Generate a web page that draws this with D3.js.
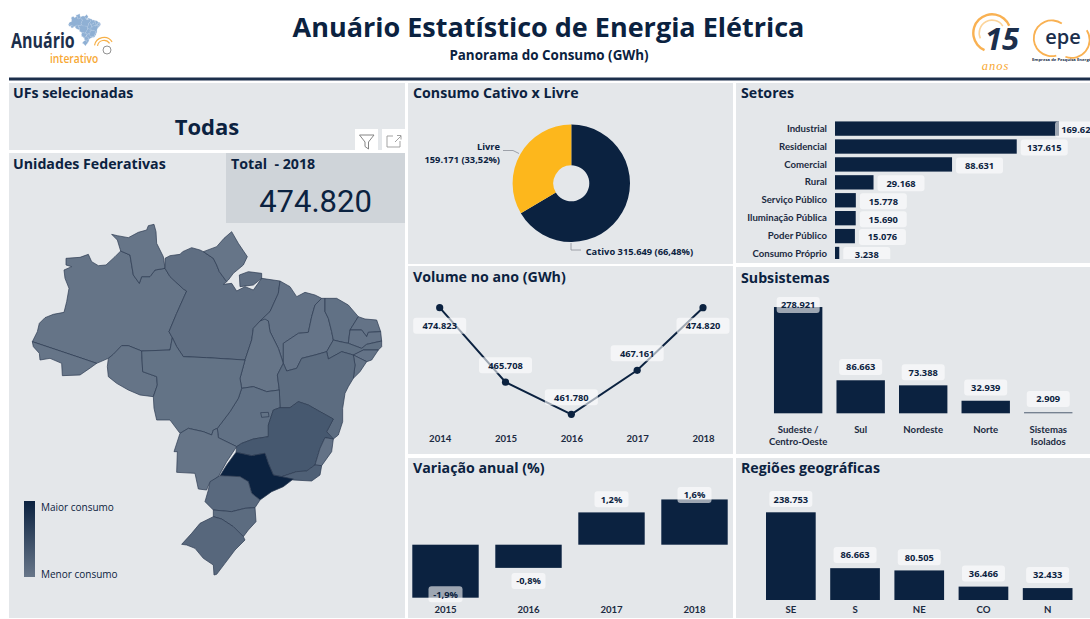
<!DOCTYPE html>
<html>
<head>
<meta charset="utf-8">
<script src="https://cdn.jsdelivr.net/npm/d3@7"></script>
<style>
  html, body { margin: 0; padding: 0; background: #fff; overflow: hidden; }
  svg { display: block; }
  text { font-family: "Open Sans", sans-serif; fill: #0b2240; }
  .title { font-weight: 700; font-size: 14.2px; }
  .lbl { font-weight: 700; font-size: 9.3px; }
  .axis text { font-weight: 700; font-size: 9.6px; fill: #1b2a41; font-family: Lato, sans-serif; }
</style>
</head>
<body>
<div id="chart"></div>
<script>
// --- data ---
const setores = ["Industrial", "Residencial", "Comercial", "Rural", "Serviço Público", "Iluminação Pública", "Poder Público", "Consumo Próprio"];
const setoresVal = [169624, 137615, 88631, 29168, 15778, 15690, 15076, 3238];

const subsistemas = ["Sudeste /|Centro-Oeste", "Sul", "Nordeste", "Norte", "Sistemas|Isolados"];
const subsistemasVal = [278921, 86663, 73388, 32939, 2909];

const regioes = ["SE", "S", "NE", "CO", "N"];
const regioesVal = [238753, 86663, 80505, 36466, 32433];

const anos = ["2014", "2015", "2016", "2017", "2018"];
const volumeVal = [474823, 465708, 461780, 467161, 474820];

const anosVar = ["2015", "2016", "2017", "2018"];
const variacaoVal = [-1.92, -0.84, 1.17, 1.64];

const contratos = ["Cativo", "Livre"];
const contratosVal = [315649, 159171];
const contratosPct = ["66,48%", "33,52%"];

// consumption per UF is not printed, estimated from the map shading (GWh)
const ufConsumo = { AC: 1000, AM: 3000, AP: 1000, PA: 12000, RO: 3000, RR: 1000, TO: 1500, MA: 6000, PI: 2500, CE: 8000,
  RN: 4000, PB: 4000, PE: 10000, AL: 4000, SE: 3000, BA: 16000, GO: 8000, DF: 5000, MT: 5000, MS: 3000,
  MG: 46000, ES: 6000, RJ: 34000, SP: 130000, PR: 20000, SC: 16000, RS: 23000 };

// state outlines (map units, 3 per pixel)
const ufOutlines = {
  AM: [[[97,380],[112,350],[118,325],[135,308],[160,298],[192,292],[200,260],[207,220],[195,190],[192,165],[215,155],[198,150],[198,130],[240,127],[265,118],[275,140],[295,152],[318,150],[345,125],[362,108],[390,120],[400,180],[418,205],[425,185],[450,185],[465,165],[495,160],[510,185],[550,222],[560,228],[530,295],[507,350],[517,368],[510,405],[425,408],[385,392],[365,392],[340,418],[325,430],[290,445],[240,428]]],
  RR: [[[335,58],[352,62],[385,68],[415,52],[440,45],[445,32],[462,28],[468,50],[470,85],[490,125],[495,160],[465,165],[450,185],[425,185],[418,205],[400,180],[390,120],[362,108],[352,75]]],
  AC: [[[97,380],[240,428],[290,445],[272,458],[240,480],[187,482],[185,445],[150,430],[120,435],[118,415],[100,395]]],
  RO: [[[325,430],[340,418],[365,392],[385,392],[425,408],[428,470],[470,485],[472,510],[460,545],[420,540],[385,525],[350,505],[325,485],[322,455]]],
  PA: [[[495,130],[510,122],[540,118],[548,110],[575,98],[600,105],[610,110],[640,130],[650,150],[658,170],[680,200],[670,208],[695,205],[710,228],[735,215],[760,225],[785,190],[840,198],[835,235],[810,290],[780,318],[760,340],[755,375],[735,435],[620,428],[550,425],[530,395],[517,368],[507,350],[530,295],[560,228],[550,222],[510,185],[495,160]],
       [[718,180],[745,170],[785,175],[785,190],[760,210],[720,215]]],
  AP: [[[610,110],[650,95],[672,70],[695,50],[715,85],[742,125],[730,150],[700,175],[685,195],[680,200],[658,170],[650,150],[640,130]]],
  MA: [[[840,198],[870,215],[890,245],[915,232],[945,240],[965,250],[945,270],[935,305],[925,352],[895,355],[850,385],[850,445],[835,400],[810,350],[805,318],[780,318],[810,290],[835,235]]],
  TO: [[[780,318],[795,312],[805,318],[810,350],[835,400],[850,445],[832,480],[838,525],[800,530],[760,515],[725,520],[720,490],[735,435],[755,375],[760,340]]],
  PI: [[[965,250],[975,250],[975,290],[985,310],[995,350],[1000,375],[980,410],[945,420],[905,430],[890,460],[860,468],[850,445],[850,385],[895,355],[925,352],[935,305],[945,270]]],
  CE: [[[975,250],[1010,250],[1045,270],[1075,305],[1050,345],[1045,385],[1020,380],[1000,375],[995,350],[985,310],[975,290]]],
  RN: [[[1075,305],[1095,312],[1130,315],[1142,350],[1105,352],[1100,365],[1085,345],[1050,345]]],
  PB: [[[1050,345],[1085,345],[1100,365],[1105,352],[1142,350],[1145,378],[1100,388],[1085,400],[1045,385]]],
  PE: [[[1000,375],[1020,380],[1045,385],[1085,400],[1100,388],[1145,378],[1145,395],[1135,405],[1090,405],[1060,420],[1025,410],[985,432],[980,410]]],
  AL: [[[1060,420],[1090,405],[1135,405],[1115,435],[1100,440],[1080,430]]],
  SE: [[[1060,420],[1080,430],[1100,440],[1080,470],[1060,490],[1065,450]]],
  BA: [[[850,445],[860,468],[890,460],[905,430],[945,420],[980,410],[985,432],[1025,410],[1060,420],[1065,450],[1060,490],[1045,515],[1035,535],[1028,580],[1028,620],[1015,660],[1000,672],[980,650],[1000,612],[960,590],[925,570],[895,560],[870,578],[840,578],[838,525],[832,480]]],
  GO: [[[725,520],[760,515],[800,530],[838,525],[840,578],[820,585],[805,630],[805,665],[760,672],[725,685],[710,695],[655,668],[652,640],[690,590],[715,550]]],
  MT: [[[425,408],[510,405],[517,368],[530,395],[550,425],[620,428],[735,435],[720,490],[725,520],[715,550],[690,590],[652,640],[640,645],[635,660],[610,650],[565,640],[540,655],[510,615],[470,615],[462,580],[460,545],[472,510],[470,485],[428,470]]],
  MS: [[[540,655],[565,640],[610,650],[635,660],[640,645],[652,640],[655,668],[710,695],[680,740],[655,785],[628,805],[620,825],[595,822],[585,775],[530,772],[532,710],[522,710]]],
  MG: [[[710,695],[725,685],[760,672],[805,665],[805,630],[820,585],[840,578],[870,578],[895,560],[925,570],[960,590],[1000,612],[980,650],[1000,672],[975,668],[960,700],[945,750],[920,768],[890,770],[845,785],[820,780],[805,745],[795,715],[755,722],[708,712]]],
  ES: [[[975,668],[1000,672],[995,710],[965,752],[945,750],[960,700]]],
  RJ: [[[945,750],[965,752],[960,780],[935,798],[880,795],[845,785],[890,770],[920,768]]],
  SP: [[[708,712],[755,722],[795,715],[805,745],[820,780],[845,785],[880,792],[850,815],[815,830],[780,855],[755,835],[745,800],[720,785],[660,782],[680,750]]],
  PR: [[[660,782],[720,785],[745,800],[755,835],[780,855],[765,878],[735,880],[695,890],[640,885],[615,860],[625,825],[630,800]]],
  SC: [[[640,885],[695,890],[735,880],[765,878],[768,920],[745,945],[730,965],[700,935],[665,912],[640,905]]],
  RS: [[[640,905],[665,912],[700,935],[730,965],[735,975],[705,1005],[675,1045],[650,1078],[642,1080],[640,1050],[610,1030],[585,1000],[560,990],[545,988],[575,955],[600,925]]],
  DF: [[[782,593],[805,592],[807,605],[785,607]]]
};

const NAVY = "#0b2240";
const PANEL = "#e4e7ea";
const fmt = d3.formatLocale({ decimal: ",", thousands: ".", grouping: [3], currency: ["", ""] }).format(",d");

const svg = d3.select("#chart").append("svg")
  .attr("width", 1090)
  .attr("height", 619);

// panels
const panels = [
  [9, 83, 396, 67], [9, 153, 396, 465],
  [408, 83, 325, 181], [408, 266, 325, 188], [408, 458, 325, 160],
  [736, 83, 354, 180], [736, 267, 354, 187], [736, 458, 354, 160]
];
svg.selectAll("rect.panel").data(panels).enter().append("rect")
  .attr("class", "panel")
  .attr("x", d => d[0]).attr("y", d => d[1])
  .attr("width", d => d[2]).attr("height", d => d[3])
  .attr("fill", PANEL);
svg.append("rect").attr("x", 226).attr("y", 153).attr("width", 179).attr("height", 70).attr("fill", "#cfd4d9");
svg.append("rect").attr("x", 9).attr("y", 77.5).attr("width", 1081).attr("height", 3).attr("fill", "#1c2f4c");

// header
svg.append("text").attr("x", 548.5).attr("y", 37).attr("text-anchor", "middle")
  .style("font-size", "27px").style("font-weight", 700).text("Anuário Estatístico de Energia Elétrica");
svg.append("text").attr("x", 549).attr("y", 60).attr("text-anchor", "middle")
  .style("font-size", "13.4px").style("font-weight", 700).text("Panorama do Consumo (GWh)");

// panel titles
const titulos = [["UFs selecionadas", 13, 98], ["Unidades Federativas", 13, 169], ["Total  - 2018", 231, 169],
  ["Consumo Cativo x Livre", 413, 98], ["Setores", 741, 98], ["Volume no ano (GWh)", 413, 282],
  ["Subsistemas", 741, 283], ["Variação anual (%)", 413, 473], ["Regiões geográficas", 741, 473]];
svg.selectAll("text.title").data(titulos).enter().append("text")
  .attr("class", "title")
  .attr("x", d => d[1]).attr("y", d => d[2])
  .style("white-space", "pre")
  .text(d => d[0]);

svg.append("text").attr("x", 207).attr("y", 135).attr("text-anchor", "middle")
  .style("font-size", "22px").style("font-weight", 700).text("Todas");
svg.append("text").attr("x", 315.5).attr("y", 212).attr("text-anchor", "middle")
  .style("font-family", "Roboto").style("font-size", "31px").text(fmt(volumeVal[4]));

// filter + focus icons
svg.selectAll("rect.icon").data([355, 382]).enter().append("rect")
  .attr("class", "icon").attr("x", d => d).attr("y", 129).attr("width", 23).attr("height", 21).attr("fill", "#fff");
svg.append("path").attr("d", "M359.5 135 H374 L368.5 142 V149 L365 146.5 V142 Z").attr("fill", "none").attr("stroke", "#777").attr("stroke-width", 0.9);
svg.append("path").attr("d", "M393 136 H387 V147 H400 V141 M395 142 L401 136 M397 135.5 H401 V139.5").attr("fill", "none").attr("stroke", "#999").attr("stroke-width", 0.9);

// white-backed value label, sits over the marks
function boxLabel(g, cx, cy, w, txt) {
  g.append("rect")
    .attr("x", cx - w / 2).attr("y", cy - 8)
    .attr("width", w).attr("height", 16).attr("rx", 3)
    .attr("fill", "#fff").attr("fill-opacity", 0.6);
  g.append("text").attr("class", "lbl")
    .attr("x", cx).attr("y", cy + 3.4)
    .attr("text-anchor", "middle")
    .text(txt);
}

// --- map ---
const ufFeatures = Object.keys(ufOutlines).map(k => ({
  type: "Feature", id: k, geometry: { type: "MultiPolygon", coordinates: ufOutlines[k].map(r => [r.concat([r[0]])]) }
}));
const mapColor = d3.scaleLinear().domain([0, 130000]).range(["#677689", NAVY]);
const mapPath = d3.geoPath(d3.geoIdentity().scale(1 / 3).translate([0, 215]));
svg.append("g").selectAll("path").data(ufFeatures).enter().append("path")
  .attr("d", mapPath)
  .attr("fill", d => mapColor(ufConsumo[d.id]))
  .attr("stroke", "#2c3b52")
  .attr("stroke-width", 0.7)
  .attr("stroke-linejoin", "round");

const grad = svg.append("defs").append("linearGradient").attr("id", "leg").attr("x1", 0).attr("x2", 0).attr("y1", 0).attr("y2", 1);
grad.append("stop").attr("offset", "0%").attr("stop-color", NAVY);
grad.append("stop").attr("offset", "100%").attr("stop-color", "#677689");
svg.append("rect").attr("x", 24).attr("y", 501).attr("width", 11).attr("height", 76).attr("fill", "url(#leg)");
svg.append("text").attr("x", 41).attr("y", 511).style("font-size", "10px").text("Maior consumo");
svg.append("text").attr("x", 41).attr("y", 578).style("font-size", "10px").text("Menor consumo");

// --- donut ---
const pie = d3.pie().sort(null)(contratosVal);
const arc = d3.arc().innerRadius(18).outerRadius(58.7);
const donut = svg.append("g").attr("transform", "translate(571.3,183.3)");
donut.selectAll("path").data(pie).enter().append("path")
  .attr("d", arc)
  .attr("fill", (d, i) => [NAVY, "#fdb71c"][i]);
svg.append("path").attr("d", "M503 150.5 H513 L519 153.5 M571 243 V250 H581").attr("fill", "none").attr("stroke", "#8a8f98").attr("stroke-width", 0.8);
svg.append("text").attr("class", "lbl").attr("x", 500).attr("y", 150).attr("text-anchor", "end").text(contratos[1]);
svg.append("text").attr("class", "lbl").attr("x", 500).attr("y", 163).attr("text-anchor", "end")
  .text(`${fmt(contratosVal[1])} (${contratosPct[1]})`);
svg.append("text").attr("class", "lbl").attr("x", 585.7).attr("y", 255)
  .text(`${contratos[0]} ${fmt(contratosVal[0])} (${contratosPct[0]})`);

// --- setores ---
const setY = d3.scaleBand().domain(setores).range([120, 262.6]).paddingInner(0.2).paddingOuter(0.08);
const setX = d3.scaleLinear().domain([0, 169624]).range([835, 1059]);
svg.append("g").attr("class", "axis").attr("transform", "translate(829,0)")
  .call(d3.axisLeft(setY).tickSize(0).tickPadding(2))
  .call(g => g.select(".domain").remove());
svg.append("clipPath").attr("id", "setClip").append("rect").attr("x", 736).attr("y", 83).attr("width", 354).attr("height", 176);
const setG = svg.append("g").attr("clip-path", "url(#setClip)");
setG.selectAll("rect.bar").data(setores).enter().append("rect")
  .attr("class", "bar")
  .attr("x", setX(0))
  .attr("y", d => setY(d))
  .attr("width", (d, i) => setX(setoresVal[i]) - setX(0))
  .attr("height", setY.bandwidth())
  .attr("fill", NAVY);
setores.forEach((d, i) => {
  const left = Math.min(setX(setoresVal[i]) + 4, 1055);
  boxLabel(setG, left + 23.5, setY(d) + setY.bandwidth() / 2 + 1, 47, fmt(setoresVal[i]));
});

// --- volume line ---
const volX = d3.scalePoint().domain(anos).range([439.7, 703]);
const volY = d3.scaleLinear().domain([461780, 474823]).range([414.3, 307.7]);
svg.append("g").attr("class", "axis").attr("transform", "translate(0,435)")
  .call(d3.axisBottom(volX).tickSize(0).tickPadding(0))
  .call(g => g.select(".domain").remove());
const volG = svg.append("g");
volG.append("path").datum(volumeVal)
  .attr("d", d3.line().x((d, i) => volX(anos[i])).y(d => volY(d)))
  .attr("fill", "none").attr("stroke", NAVY).attr("stroke-width", 2);
volG.selectAll("circle").data(volumeVal).enter().append("circle")
  .attr("cx", (d, i) => volX(anos[i])).attr("cy", d => volY(d)).attr("r", 3.6).attr("fill", NAVY);
volumeVal.forEach((d, i) => {
  const dy = (i === 0 || i === 4) ? 18 : -17;
  boxLabel(volG, volX(anos[i]), volY(d) + dy, 53, fmt(d));
});

// --- variacao ---
const varX = d3.scaleBand().domain(anosVar).range([404, 736]).paddingInner(0.2).paddingOuter(0.1);
const varY = d3.scaleLinear().domain([-1, 1]).range([544.7 + 27.6, 544.7 - 27.6]);
svg.append("clipPath").attr("id", "varClip").append("rect").attr("x", 408).attr("y", 458).attr("width", 325).attr("height", 160);
const varG = svg.append("g").attr("clip-path", "url(#varClip)");
varG.selectAll("rect").data(variacaoVal).enter().append("rect")
  .attr("x", (d, i) => varX(anosVar[i]))
  .attr("y", d => Math.min(varY(d), varY(0)))
  .attr("width", varX.bandwidth())
  .attr("height", d => Math.abs(varY(d) - varY(0)))
  .attr("fill", NAVY);
svg.append("g").attr("class", "axis").attr("transform", "translate(0,606.5)")
  .call(d3.axisBottom(varX).tickSize(0).tickPadding(0))
  .call(g => g.select(".domain").remove());
variacaoVal.forEach((d, i) => {
  const y = Math.max(495, Math.min(594.3, varY(d) + (d < 0 ? 13.2 : -13.2)));
  boxLabel(varG, varX(anosVar[i]) + varX.bandwidth() / 2, y, 34, `${d.toFixed(1).replace(".", ",")}%`);
});

// --- vertical bar panels ---
function barPanel(cats, vals, x0, x1, base, k, minY, axisY) {
  const x = d3.scaleBand().domain(cats).range([x0, x1]).paddingInner(0.226).paddingOuter(0.113);
  const y = d3.scaleLinear().domain([0, 1000]).range([base, base - k]);
  const g = svg.append("g");
  g.selectAll("rect").data(vals).enter().append("rect")
    .attr("x", (d, i) => x(cats[i]))
    .attr("y", d => y(d))
    .attr("width", x.bandwidth())
    .attr("height", d => Math.max(base - y(d), 1))
    .attr("fill", (d, i) => base - y(d) < 2 ? "#5d6a7d" : NAVY);
  vals.forEach((d, i) => {
    boxLabel(g, x(cats[i]) + x.bandwidth() / 2, Math.max(minY, y(d) - 13.2), 43, fmt(d));
  });
  const axis = svg.append("g").attr("class", "axis").attr("transform", `translate(0,${axisY})`)
    .call(d3.axisBottom(x).tickSize(0).tickPadding(0));
  axis.select(".domain").remove();
  axis.selectAll("text").each(function (d) {
    const t = d3.select(this).text(null).attr("dy", 0);
    d.split("|").forEach((s, i) => {
      t.append("tspan").attr("x", 0).attr("dy", i ? 12.4 : 0).text(s);
    });
  });
}
barPanel(subsistemas, subsistemasVal, 766.9, 1079.5, 413.3, 0.381, 305, 432.7);
barPanel(regioes, regioesVal, 758.75, 1079.75, 600, 0.3673, 0, 613);

// --- logos ---
const logo = svg.append("g");
logo.append("g").selectAll("path").data(ufFeatures).enter().append("path")
  .attr("d", d3.geoPath(d3.geoIdentity().scale(0.0305).translate([65.5, 13])))
  .attr("fill", "#8fb0d4").attr("stroke", "#b6cce3").attr("stroke-width", 0.2);
logo.append("text").attr("transform", "translate(11,48) scale(0.78,1)")
  .style("font-size", "20.5px").style("font-weight", 700).style("fill", "#1c2f4c").text("Anuário");
logo.append("text").attr("transform", "translate(50,63) scale(0.82,1)")
  .style("font-size", "12.5px").style("font-weight", 600).style("fill", "#f7a833").text("interativo");
const ring = d3.arc();
function arcs(list, color, sw, g) {
  g.selectAll(null).data(list).enter().append("path")
    .attr("transform", d => `translate(${d[0]},${d[1]})`)
    .attr("d", d => ring({ innerRadius: d[2], outerRadius: d[2] + sw, startAngle: d[3], endAngle: d[4] }))
    .attr("fill", color);
}
arcs([[104, 47, 9, -1.4, 1], [104, 47, 6, -1.4, 1]], "#f7b048", 1.2, logo);
logo.append("circle").attr("cx", 107).attr("cy", 50).attr("r", 4).attr("fill", "#fff").attr("stroke", "#777").attr("stroke-width", 0.8);

arcs([[992, 33, 17.5, -2.73, 1.17]], "#f9b152", 2.4, logo);
arcs([[992, 33, 12, -2, 1]], "#fcd49a", 1.6, logo);
logo.append("text").attr("x", 985).attr("y", 50).style("font-size", "31px").style("font-style", "italic").style("font-weight", 700).style("fill", "#1c2f4c").text("15");
logo.append("text").attr("x", 995.5).attr("y", 70).attr("text-anchor", "middle").style("font-size", "12.5px").style("font-style", "italic").style("font-family", "Liberation Serif").style("letter-spacing", "1px").style("fill", "#f7a833").text("anos");
arcs([[1051.7, 38.3, 17, -3.4, 0.6], [1071.7, 40, 17, 1, 3.5]], "#f9b152", 1.8, logo);
logo.append("text").attr("x", 1063).attr("y", 44).attr("text-anchor", "middle").style("font-size", "20px").style("font-weight", 600).style("fill", "#1c2f4c").text("epe");
logo.append("text").attr("x", 1032).attr("y", 60.5).style("font-size", "4.2px").style("font-weight", 700).style("fill", "#1c2f4c").text("Empresa de Pesquisa Energética");
</script>
</body>
</html>
